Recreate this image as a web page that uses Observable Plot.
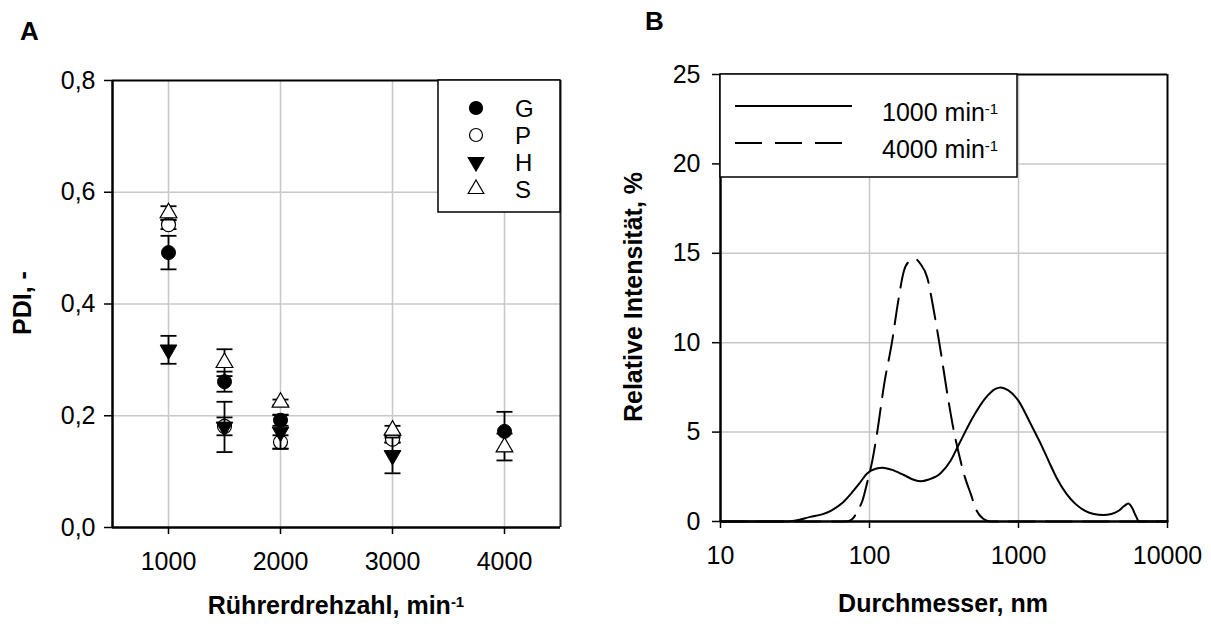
<!DOCTYPE html>
<html><head><meta charset="utf-8">
<script src="https://cdn.jsdelivr.net/npm/d3@7"></script>
<script src="https://cdn.jsdelivr.net/npm/@observablehq/plot@0.6"></script>
<style>
body{margin:0;background:#fff;}
#root{position:relative;width:1211px;height:628px;overflow:hidden;font-family:"Liberation Sans",Arial,sans-serif;}
.panel{position:absolute;top:0;}
#overlay{position:absolute;left:0;top:0;pointer-events:none;}
</style></head><body><div id="root"><div id="pa" class="panel" style="left:0;width:605px"></div><div id="pb" class="panel" style="left:605px;width:606px"></div></div>
<script>
// ---------- Panel A data ----------
const rpm = [1000, 1500, 2000, 3000, 4000];
const seriesA = ["G", "P", "H", "S"];
const pdiG = [0.492, 0.261, 0.192, 0.160, 0.172];
const errG = [0.030, 0.018, 0.010, 0.008, 0.035];
const pdiP = [0.542, 0.181, 0.153, 0.158, null];
const errP = [0.008, 0.016, 0.012, 0.006, null];
const pdiH = [0.318, 0.180, 0.171, 0.129, null];
const errH = [0.025, 0.045, 0.030, 0.032, null];
const pdiS = [0.563, 0.295, 0.224, 0.174, 0.144];
const errS = [0.012, 0.024, 0.005, 0.008, 0.024];
const xTicksA = [1000, 2000, 3000, 4000];
const yTicksA = [0, 0.2, 0.4, 0.6, 0.8];

// ---------- Panel B data ----------
const seriesB = ["1000 min", "4000 min"];
const d1000 = [10, 20, 28, 32, 40, 48, 55, 65, 75, 85, 96, 110, 122, 140, 170, 200, 220, 250, 300, 350, 400, 500, 600, 700, 760, 850, 1000, 1200, 1400, 1600, 1800, 2100, 2400, 2800, 3200, 3700, 4200, 4700, 5100, 5450, 5800, 6100, 6450, 10000];
const v1000 = [0, 0, 0, 0.05, 0.26, 0.4, 0.6, 1.0, 1.55, 2.1, 2.67, 2.95, 3.0, 2.9, 2.6, 2.32, 2.25, 2.35, 2.7, 3.4, 4.35, 5.9, 6.9, 7.42, 7.5, 7.35, 6.75, 5.5, 4.4, 3.35, 2.45, 1.55, 1.0, 0.6, 0.42, 0.36, 0.42, 0.6, 0.85, 1.0, 0.75, 0.35, 0, 0];
const d4000 = [10, 60, 72, 78, 83, 90, 96, 105, 113, 125, 142, 155, 170, 185, 203, 220, 244, 270, 300, 335, 368, 400, 430, 480, 524, 580, 646, 10000];
const v4000 = [0, 0, 0.02, 0.2, 0.6, 1.2, 2.1, 3.5, 5.07, 7.6, 10.1, 12.2, 14.0, 14.55, 14.68, 14.4, 13.65, 11.8, 9.55, 7.0, 5.07, 3.7, 2.67, 1.5, 0.6, 0.15, 0, 0];
const xTicksB = [10, 100, 1000, 10000];
const yTicksB = [0, 5, 10, 15, 20, 25];

const FONT = '"Liberation Sans", Arial, sans-serif';
const GRID = "#c8c8c8";
const TICKSIZE = "25px";

// build rows for A
const valsA = {G: pdiG, P: pdiP, H: pdiH, S: pdiS};
const errsA = {G: errG, P: errP, H: errH, S: errS};
const rowsA = [];
for (const s of seriesA) rpm.forEach((x, i) => { if (valsA[s][i] != null) rowsA.push({s, x, v: valsA[s][i], e: errsA[s][i]}); });
const caps = rowsA.flatMap(d => [{s: d.s, x: d.x, y: d.v + d.e}, {s: d.s, x: d.x, y: d.v - d.e}]);

const capSymbol = {draw(ctx, size) { const w = Math.sqrt(size / Math.PI); ctx.moveTo(-w, 0); ctx.lineTo(w, 0); }};
const markStyle = {
  G: {r: 7, fill: "black", stroke: "black", strokeWidth: 1},
  P: {r: 7, fill: "white", stroke: "black", strokeWidth: 1.2},
  H: {r: 6.2, symbol: "triangle", rotate: 180, fill: "black", stroke: "black", strokeWidth: 1},
  S: {r: 6.2, symbol: "triangle", fill: "white", stroke: "black", strokeWidth: 1.2}
};
const seriesMarks = seriesA.flatMap(s => {
  const rows = rowsA.filter(d => d.s === s);
  return [
    Plot.ruleX(rows, {x: "x", y1: d => d.v - d.e, y2: d => d.v + d.e, stroke: "black", strokeWidth: 1.8}),
    Plot.dot(caps.filter(d => d.s === s), {x: "x", y: "y", symbol: capSymbol, r: 8, stroke: "black", strokeWidth: 1.8}),
    Plot.dot(rows, {x: "x", y: "v", ...markStyle[s]})
  ];
});

const plotA = Plot.plot({
  width: 605, height: 628,
  marginLeft: 112, marginRight: 45, marginTop: 80, marginBottom: 101,
  style: {fontFamily: FONT, fontSize: TICKSIZE, color: "black", background: "transparent"},
  x: {domain: [500, 4500]},
  y: {domain: [0, 0.8]},
  marks: [
    Plot.gridX(xTicksA, {stroke: GRID, strokeOpacity: 1, strokeWidth: 1.5}),
    Plot.gridY(yTicksA.slice(1, -1), {stroke: GRID, strokeOpacity: 1, strokeWidth: 1.5}),
    Plot.ruleX([4500], {stroke: "#222", strokeWidth: 2}),
    Plot.ruleY([0.8], {stroke: "black", strokeWidth: 2}),
    Plot.ruleX([500], {stroke: "black", strokeWidth: 2.5}),
    Plot.ruleY([0], {stroke: "black", strokeWidth: 2.5}),
    Plot.axisX({ticks: xTicksA, tickFormat: d => String(d), tickSize: 7, tickPadding: 18, label: null, strokeWidth: 1.5}),
    Plot.axisY({ticks: yTicksA, tickFormat: d => d.toFixed(1).replace(".", ","), tickSize: 8, tickPadding: 9, label: null, strokeWidth: 1.5}),
    ...seriesMarks
  ]
});
document.getElementById("pa").appendChild(plotA);

// rows for B
const rowsB = [
  ...d1000.map((d, i) => ({s: seriesB[0], d, v: v1000[i]})),
  ...d4000.map((d, i) => ({s: seriesB[1], d, v: v4000[i]}))
];
const plotB = Plot.plot({
  width: 606, height: 628,
  marginLeft: 115, marginRight: 44, marginTop: 74, marginBottom: 107,
  style: {fontFamily: FONT, fontSize: TICKSIZE, color: "black", background: "transparent"},
  x: {type: "log", domain: [10, 10000]},
  y: {domain: [0, 25]},
  marks: [
    Plot.gridX([100, 1000], {stroke: GRID, strokeOpacity: 1, strokeWidth: 1.5}),
    Plot.gridY(yTicksB.slice(1, -1), {stroke: GRID, strokeOpacity: 1, strokeWidth: 1.5}),
    Plot.ruleX([10000], {stroke: "black", strokeWidth: 2}),
    Plot.ruleY([25], {stroke: "black", strokeWidth: 2}),
    Plot.line(rowsB.filter(r => r.s === seriesB[1]), {x: "d", y: "v", stroke: "black", strokeWidth: 2, strokeDasharray: "26,11", curve: "monotone-x"}),
    Plot.line(rowsB.filter(r => r.s === seriesB[0]), {x: "d", y: "v", stroke: "black", strokeWidth: 2, curve: "monotone-x"}),
    Plot.ruleX([10], {stroke: "black", strokeWidth: 2.5}),
    Plot.ruleY([0], {stroke: "black", strokeWidth: 2.5}),
    Plot.axisX({ticks: xTicksB, tickFormat: d => String(d), tickSize: 7, tickPadding: 18, label: null, strokeWidth: 1.5}),
    Plot.axisY({ticks: yTicksB, tickFormat: d => String(d), tickSize: 8, tickPadding: 12, label: null, strokeWidth: 1.5})
  ]
});
document.getElementById("pb").appendChild(plotB);

// ---------- overlay: titles, legends ----------
const svg = d3.select("#root").append("svg").attr("id", "overlay")
  .attr("width", 1211).attr("height", 628)
  .style("font-family", FONT);

function supText(g, x, y, main, sup, opts = {}) {
  const t = g.append("text").attr("x", x).attr("y", y)
    .attr("font-size", opts.size || 25).attr("font-weight", opts.weight || "normal")
    .attr("text-anchor", opts.anchor || "start");
  if (opts.transform) t.attr("transform", opts.transform);
  t.append("tspan").text(main);
  if (sup) t.append("tspan").attr("dy", "-0.5em").attr("font-size", "0.6em").text(sup);
  return t;
}

svg.append("text").attr("x", 20).attr("y", 40).attr("font-size", 26).attr("font-weight", "bold").text("A");
svg.append("text").attr("x", 645).attr("y", 30).attr("font-size", 26).attr("font-weight", "bold").text("B");

supText(svg, 0, 0, "PDI, -", null, {weight: "bold", anchor: "middle", transform: "translate(31,303) rotate(-90)"});
supText(svg, 0, 0, "Relative Intensität, %", null, {weight: "bold", anchor: "middle", transform: "translate(642,297) rotate(-90)"});
supText(svg, 336, 614, "Rührerdrehzahl, min", "-1", {weight: "bold", anchor: "middle"});
supText(svg, 943, 612, "Durchmesser, nm", null, {weight: "bold", anchor: "middle"});

// legend A
const la = svg.append("g");
la.append("rect").attr("x", 438).attr("y", 80).attr("width", 122).attr("height", 132)
  .attr("fill", "white").attr("stroke", "black").attr("stroke-width", 1.5);
const legY = [108, 135, 162, 189];
seriesA.forEach((s, i) => {
  const cy = legY[i];
  if (s === "G" || s === "P") {
    la.append("circle").attr("cx", 476).attr("cy", cy).attr("r", 6.5)
      .attr("fill", s === "G" ? "black" : "white").attr("stroke", "black").attr("stroke-width", 1.2);
  } else {
    la.append("path").attr("d", d3.symbol(d3.symbolTriangle, 105)())
      .attr("transform", `translate(476,${cy})` + (s === "H" ? " rotate(180)" : ""))
      .attr("fill", s === "H" ? "black" : "white").attr("stroke", "black").attr("stroke-width", 1.2);
  }
  la.append("text").attr("x", 515).attr("y", cy + 9).attr("font-size", 24).text(s);
});

// legend B
const lb = svg.append("g");
lb.append("rect").attr("x", 720).attr("y", 74).attr("width", 297).attr("height", 103)
  .attr("fill", "white").attr("stroke", "black").attr("stroke-width", 1.5);
lb.append("line").attr("x1", 735).attr("x2", 852).attr("y1", 106).attr("y2", 106).attr("stroke", "black").attr("stroke-width", 2);
lb.append("line").attr("x1", 735).attr("x2", 842).attr("y1", 143).attr("y2", 143).attr("stroke", "black").attr("stroke-width", 2).attr("stroke-dasharray", "27,13");
supText(lb, 882, 121, seriesB[0], "-1");
supText(lb, 882, 158, seriesB[1], "-1");
</script></body></html>
